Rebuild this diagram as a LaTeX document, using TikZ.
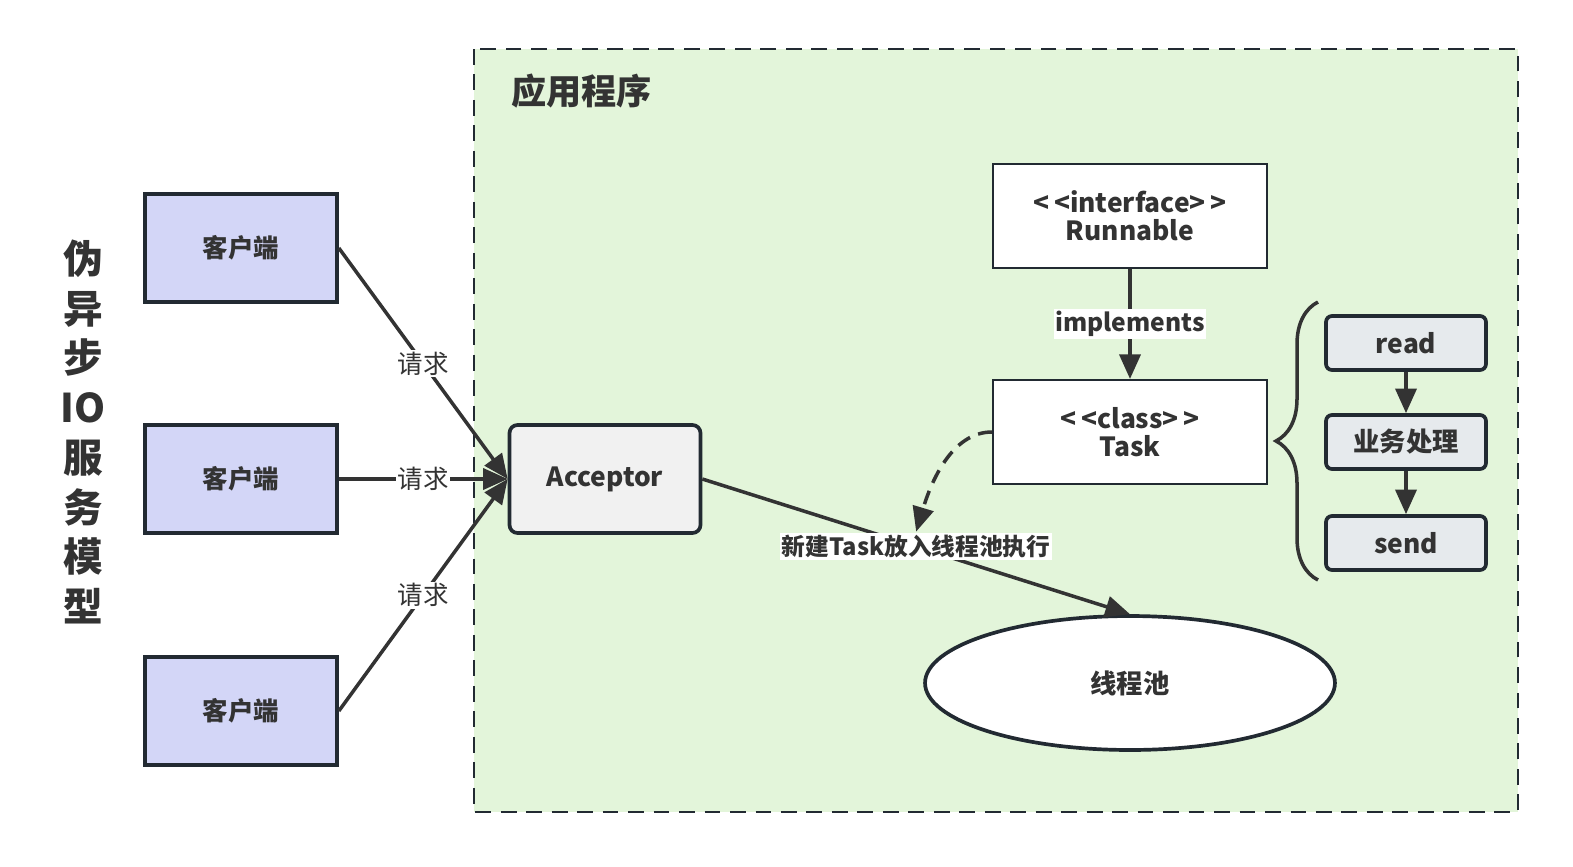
\documentclass[tikz,border=0pt]{standalone}
\usepackage{fontspec}
\setmainfont{Noto Sans CJK SC}
\usetikzlibrary{arrows.meta,shapes.geometric,decorations.pathreplacing}
\definecolor{ink}{HTML}{333333}
\definecolor{edge}{HTML}{222A32}
\definecolor{appgreen}{HTML}{E3F5DA}
\definecolor{clientblue}{HTML}{D3D6F7}
\definecolor{accgray}{HTML}{F1F1F1}
\definecolor{stepgray}{HTML}{E6EAED}
\tikzset{%
  box/.style      = {shape=rectangle, draw=edge, line width=2.1pt,%
                     align=center, text=ink, font=\bfseries\fontsize{15}{18}\selectfont},%
  client/.style   = {box, fill=clientblue, minimum width=3.84cm, minimum height=2.16cm,%
                     font=\bfseries\fontsize{14.5}{17}\selectfont},%
  acceptor/.style = {box, rounded corners=0.16cm, fill=accgray, minimum width=3.82cm, minimum height=2.16cm},%
  uml/.style      = {box, line width=1.2pt, fill=white, minimum width=5.48cm, minimum height=2.08cm},%
  stepbox/.style  = {box, rounded corners=0.12cm, fill=stepgray, minimum width=3.2cm, minimum height=1.08cm},%
  pool/.style     = {box, shape=ellipse, fill=white, minimum width=8.2cm, minimum height=2.68cm}%
}

\begin{document}
\begin{tikzpicture}[x=0.02cm,y=-0.02cm,flow/.style={draw=ink, line width=2pt, -{Triangle[length=14pt,width=12pt]}},tag/.style={fill=white, inner sep=1pt, text=ink}]
		\useasboundingbox (0,0) rectangle (1573,866);
		\draw[draw=edge, fill=appgreen, line width=1.4pt, dash pattern=on 9pt off 5.5pt] (474,49) rectangle (1518,812);
		\node[anchor=west, text=ink, font=\bfseries\fontsize{20}{24}\selectfont] (apptitle) at (505,91) {应用程序};
		\node[align=center, text=ink, font=\bfseries\fontsize{22.5}{28.3}\selectfont] (modeltitle) at (83,432) {伪\\异\\步\\IO\\服\\务\\模\\型};
		\node[client] (c1) at (241,248) {客户端};
		\node[client] (c2) at (241,479) {客户端};
		\node[client] (c3) at (241,711) {客户端};
		\node[acceptor] (acc) at (605,479) {Acceptor};
		\node[uml] (runnable) at (1130,216) {<\,<interface>\,>\\[-2pt]Runnable};
		\node[uml] (task) at (1130,432) {<\,<class>\,>\\[-2pt]Task};
		\node[stepbox] (read) at (1406,343) {read};
		\node[stepbox] (work) at (1406,442) {业务处理};
		\node[stepbox] (send) at (1406,543) {send};
		\node[pool] (pool) at (1130,683) {线程池};
		\draw[flow] (c1.east) -- node[tag, font=\fontsize{14.5}{17}\selectfont] {请求} (acc.west);
		\draw[flow] (c2.east) -- node[tag, font=\fontsize{14.5}{17}\selectfont] {请求} (acc.west);
		\draw[flow] (c3.east) -- node[tag, font=\fontsize{14.5}{17}\selectfont] {请求} (acc.west);
		\draw[flow] (acc.east) -- node[tag, font=\bfseries\fontsize{13.5}{16}\selectfont] (newtask) {新建Task放入线程池执行} (pool.north);
		\draw[flow] (runnable.south) -- node[tag, font=\bfseries\fontsize{14}{16}\selectfont] {implements} (task.north);
		\draw[flow, dash pattern=on 8pt off 5pt] (task.west) .. controls +(-40,0) and +(15,-50) .. (newtask.north);
		\draw[flow] (read.south) -- (work.north);
		\draw[flow] (work.south) -- (send.north);
		\coordinate (bracetop) at (1318,302);
		\coordinate (bracebot) at (1318,580);
		\draw[draw=ink, line width=2pt, decorate, decoration={brace, amplitude=0.84cm}] (bracebot) -- (bracetop);
	\end{tikzpicture}
\end{document}
